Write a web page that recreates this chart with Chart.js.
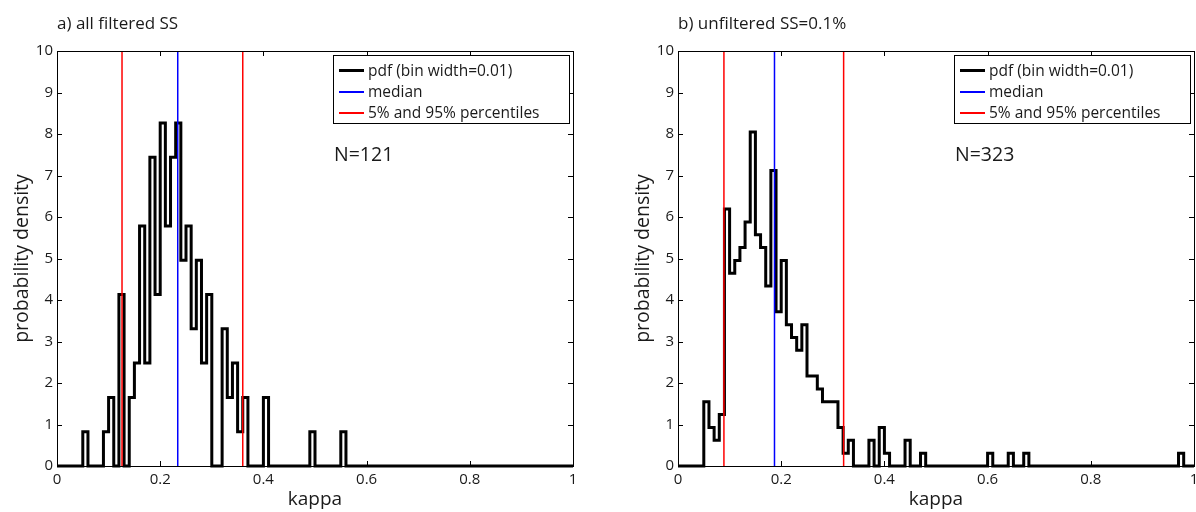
<!DOCTYPE html>
<html>
<head>
<meta charset="utf-8">
<script src="https://cdn.jsdelivr.net/npm/chart.js@4.4.1/dist/chart.umd.min.js"></script>
<style>
  body { margin: 0; background: #fff; width: 1196px; height: 512px; overflow: hidden;
         font-family: "Open Sans", sans-serif; color: #1a1a1a; }
  .panel { position: absolute; top: 0; width: 576px; height: 512px; }
  .panel canvas { position: absolute; left: 0; top: 0; }
  .ttl { position: absolute; left: 57px; top: 11px; font-size: 17px; line-height: 24px; white-space: nowrap; }
  .nlab { position: absolute; left: 334px; top: 141px; font-size: 19.5px; line-height: 26px; }
  .leg { position: absolute; left: 333px; top: 55px; width: 235px; height: 67px;
         border: 1px solid #000; background: #fff; font-size: 15.5px; }
  .row { position: absolute; left: 0; height: 21px; line-height: 21px; white-space: nowrap; }
  .row i { position: absolute; left: 5px; top: 10px; width: 25px; height: 0; border-top-style: solid; border-top-width: 2px; }
  .row span { position: absolute; left: 34px; top: 0; }
</style>
</head>
<body>

<div class="panel" id="pa" style="left:0px">
  <canvas id="cA" width="576" height="512"></canvas>
  <div class="ttl">a) all filtered SS</div>
  <div class="nlab" id="nA"></div>
  <div class="leg">
    <div class="row" style="top:4px"><i style="border-top-color:#000;border-top-width:3px;top:9px"></i><span>pdf (bin width=0.01)</span></div>
    <div class="row" style="top:25px"><i style="border-top-color:#0000ff"></i><span>median</span></div>
    <div class="row" style="top:46px"><i style="border-top-color:#ff0000"></i><span>5% and 95% percentiles</span></div>
  </div>
</div>

<div class="panel" id="pb" style="left:621px">
  <canvas id="cB" width="576" height="512"></canvas>
  <div class="ttl">b) unfiltered SS=0.1%</div>
  <div class="nlab" id="nB"></div>
  <div class="leg">
    <div class="row" style="top:4px"><i style="border-top-color:#000;border-top-width:3px;top:9px"></i><span>pdf (bin width=0.01)</span></div>
    <div class="row" style="top:25px"><i style="border-top-color:#0000ff"></i><span>median</span></div>
    <div class="row" style="top:46px"><i style="border-top-color:#ff0000"></i><span>5% and 95% percentiles</span></div>
  </div>
</div>

<script>
// histogram counts per 0.01 bin of kappa (0..1)
const binWidth = 0.01;
const xTicks = [0, 0.2, 0.4, 0.6, 0.8, 1];
const yTicks = [0, 1, 2, 3, 4, 5, 6, 7, 8, 9, 10];

// a) all filtered SS
const nA = 121;
const countsA = [
  0, 0, 0, 0, 0, 1, 0, 0, 0, 1,
  2, 0, 5, 0, 2, 3, 7, 3, 9, 5,
  10, 7, 9, 10, 6, 7, 4, 6, 3, 5,
  0, 0, 4, 2, 3, 1, 2, 0, 0, 0,
  2, 0, 0, 0, 0, 0, 0, 0, 0, 1,
  0, 0, 0, 0, 0, 1, 0, 0, 0, 0,
  0, 0, 0, 0, 0, 0, 0, 0, 0, 0,
  0, 0, 0, 0, 0, 0, 0, 0, 0, 0,
  0, 0, 0, 0, 0, 0, 0, 0, 0, 0,
  0, 0, 0, 0, 0, 0, 0, 0, 0, 0
];
const medianA = 0.234;
const pctA = [0.126, 0.360];

// b) unfiltered SS=0.1%
const nB = 323;
const countsB = [
  0, 0, 0, 0, 0, 5, 3, 2, 4, 20,
  15, 16, 17, 19, 26, 18, 17, 14, 23, 12,
  16, 11, 10, 9, 11, 7, 7, 6, 5, 5,
  5, 3, 1, 2, 0, 0, 0, 2, 0, 3,
  1, 0, 0, 0, 2, 0, 0, 1, 0, 0,
  0, 0, 0, 0, 0, 0, 0, 0, 0, 0,
  1, 0, 0, 0, 1, 0, 0, 1, 0, 0,
  0, 0, 0, 0, 0, 0, 0, 0, 0, 0,
  0, 0, 0, 0, 0, 0, 0, 0, 0, 0,
  0, 0, 0, 0, 0, 0, 0, 1, 0, 0
];
const medianB = 0.187;
const pctB = [0.089, 0.321];

const FONT = '"Open Sans", sans-serif';

// MATLAB style box with inward ticks on all four sides
const boxTicks = {
  id: 'boxTicks',
  afterDraw(chart) {
    const { ctx, chartArea: a, scales: { x, y } } = chart;
    ctx.save();
    ctx.strokeStyle = '#000';
    ctx.lineWidth = 1;
    ctx.beginPath();
    xTicks.forEach(v => {
      const px = Math.round(x.getPixelForValue(v)) + 0.5;
      ctx.moveTo(px, a.bottom); ctx.lineTo(px, a.bottom - 5);
      ctx.moveTo(px, a.top); ctx.lineTo(px, a.top + 5);
    });
    yTicks.forEach(v => {
      const py = Math.round(y.getPixelForValue(v)) + 0.5;
      ctx.moveTo(a.left, py); ctx.lineTo(a.left + 5, py);
      ctx.moveTo(a.right, py); ctx.lineTo(a.right - 5, py);
    });
    ctx.stroke();
    ctx.strokeRect(Math.round(a.left) + 0.5, Math.round(a.top) + 0.5,
                   Math.round(a.right - a.left), Math.round(a.bottom - a.top));
    ctx.restore();
  }
};

function vline(v, color) {
  return {
    data: [{ x: v, y: 0 }, { x: v, y: 10 }],
    borderColor: color, borderWidth: 1.5, pointRadius: 0, order: 1
  };
}

function makePanel(id, counts, n, median, pct) {
  const pts = counts.map((c, i) => ({ x: i * binWidth, y: c / (n * binWidth) }));
  pts.push({ x: 1, y: 0 });

  return new Chart(document.getElementById(id), {
    type: 'line',
    data: {
      datasets: [
        { data: pts, stepped: true, borderColor: '#000', borderWidth: 3,
          borderJoinStyle: 'miter', pointRadius: 0, clip: 4, order: 2 },
        vline(median, '#0000ff'),
        vline(pct[0], '#ff0000'),
        vline(pct[1], '#ff0000')
      ]
    },
    options: {
      responsive: false,
      animation: false,
      devicePixelRatio: 1,
      layout: { padding: { top: 51, right: 3, left: 0, bottom: 0 } },
      plugins: { legend: { display: false }, tooltip: { enabled: false } },
      scales: {
        x: {
          type: 'linear', min: 0, max: 1,
          afterBuildTicks: s => { s.ticks = xTicks.map(v => ({ value: v })); },
          afterFit: s => { s.height = 46; s.paddingLeft = 0; s.paddingRight = 0; },
          grid: { display: false, drawTicks: false },
          border: { display: false },
          ticks: { color: '#1a1a1a', font: { family: FONT, size: 15 }, padding: 5,
                   maxRotation: 0, callback: v => String(v) },
          title: { display: true, text: 'kappa', color: '#1a1a1a',
                   font: { family: FONT, size: 19 }, padding: { top: 0, bottom: 1 } }
        },
        y: {
          type: 'linear', min: 0, max: 10,
          afterBuildTicks: s => { s.ticks = yTicks.map(v => ({ value: v })); },
          afterFit: s => { s.width = 57; s.paddingTop = 0; s.paddingBottom = 0; },
          grid: { display: false, drawTicks: false },
          border: { display: false },
          ticks: { color: '#1a1a1a', font: { family: FONT, size: 15 }, padding: 4 },
          title: { display: true, text: 'probability density', color: '#1a1a1a',
                   font: { family: FONT, size: 19.5 }, padding: { top: 11, bottom: 0 } }
        }
      }
    },
    plugins: [boxTicks]
  });
}

makePanel('cA', countsA, nA, medianA, pctA);
makePanel('cB', countsB, nB, medianB, pctB);
document.getElementById('nA').textContent = 'N=' + nA;
document.getElementById('nB').textContent = 'N=' + nB;
</script>
</body>
</html>
